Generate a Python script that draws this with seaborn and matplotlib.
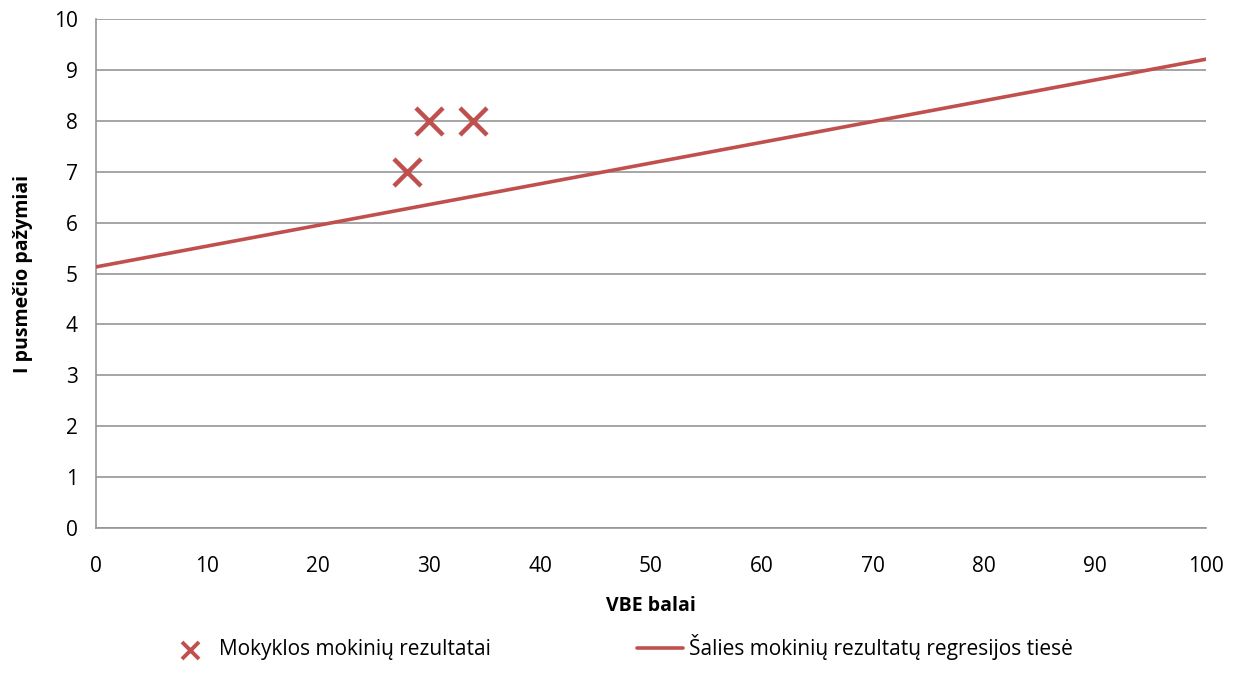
import pandas as pd
import matplotlib.pyplot as plt
import seaborn as sns

sns.set_style("white")
plt.rcParams['font.family'] = ['Open Sans', 'DejaVu Sans']

# school students' results
vbe_points = [28, 30, 34]
grade_points = [7, 8, 8]

# national regression line endpoints
line_x = [0, 100]
line_y = [5.13, 9.21]

red = "#C0504D"
grid_col = "#969696"

fig = plt.figure(figsize=(12.43, 6.93), dpi=100)
ax = fig.add_axes([0.0772, 0.238, 0.893, 0.7346])

pts = pd.DataFrame({"x": vbe_points, "y": grade_points})
reg = pd.DataFrame({"x": line_x, "y": line_y})

sns.lineplot(data=reg, x="x", y="y", color=red, linewidth=2.6, ax=ax,
             label="Šalies mokinių rezultatų regresijos tiesė", zorder=3)
sns.scatterplot(data=pts, x="x", y="y", marker="x", s=380, color=red,
                linewidth=3.2, ax=ax, label="Mokyklos mokinių rezultatai", zorder=4)

ax.set_xlim(0, 100)
ax.set_ylim(0, 10)
ax.set_xticks(range(0, 101, 10))
ax.set_yticks(range(0, 11))
ax.yaxis.grid(True, color=grid_col, linewidth=1.2)
ax.xaxis.grid(False)
for s in ["top", "right"]:
    ax.spines[s].set_visible(False)
for s in ["left", "bottom"]:
    ax.spines[s].set_color(grid_col)
    ax.spines[s].set_linewidth(1.2)
ax.tick_params(axis="both", which="major", labelsize=15, length=8, width=1.2,
               color=grid_col, labelcolor="black", direction="out", pad=5)
ax.tick_params(axis="x", pad=12)

ax.set_xlabel("VBE balai", fontsize=14, fontweight="bold", labelpad=14, color="black")
ax.set_ylabel("I pusmečio pažymiai", fontsize=14, fontweight="bold", labelpad=15, color="black")

handles, labels = ax.get_legend_handles_labels()
leg = ax.legend(handles[::-1], labels[::-1], loc="upper center",
                ncol=2, frameon=False, fontsize=15, columnspacing=7, handlelength=2.2,
                handletextpad=0.3, labelcolor="black")
leg.legend_handles[0].set_sizes([150])
leg.legend_handles[0].set_linewidth(2.8)
leg.set_bbox_to_anchor((0.472, -0.172), transform=ax.transAxes)

fig.savefig("out.png", dpi=100)
